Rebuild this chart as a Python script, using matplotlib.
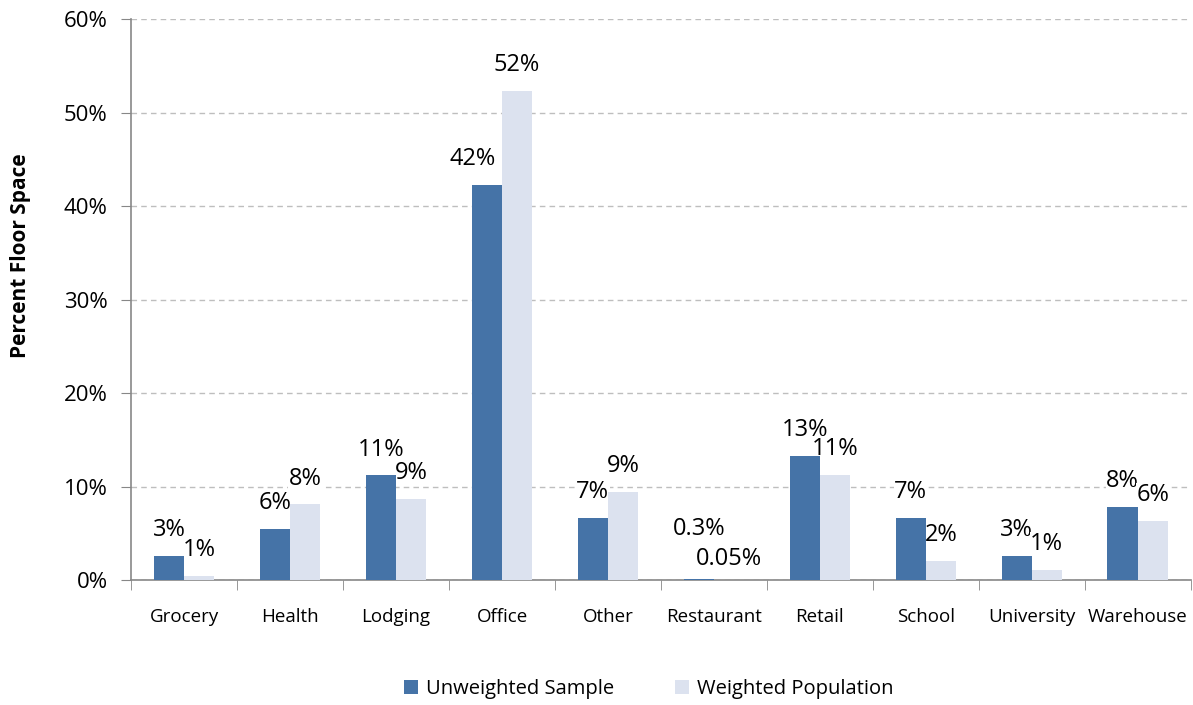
import numpy as np
import matplotlib
matplotlib.use('Agg')
from matplotlib import pyplot as plt
from matplotlib.ticker import FuncFormatter

# data (percent of floor space)
categories = ['Grocery', 'Health', 'Lodging', 'Office', 'Other',
              'Restaurant', 'Retail', 'School', 'University', 'Warehouse']
unweighted = [2.6, 5.5, 11.2, 42.3, 6.7, 0.15, 13.3, 6.7, 2.6, 7.8]
weighted = [0.45, 8.1, 8.7, 52.3, 9.4, 0.05, 11.3, 2.1, 1.1, 6.3]
unweighted_labels = ['3%', '6%', '11%', '42%', '7%', '0.3%', '13%', '7%', '3%', '8%']
weighted_labels = ['1%', '8%', '9%', '52%', '9%', '0.05%', '11%', '2%', '1%', '6%']

dark = '#4573A7'
light = '#DCE2EF'
axis_grey = '#878787'

plt.rcParams['font.family'] = ['Open Sans', 'DejaVu Sans']

fig = plt.figure(figsize=(11.93, 7.05), dpi=100)
ax = fig.add_axes([0.110, 0.177, 0.888, 0.796])

x = np.arange(len(categories))
w = 0.285
b1 = ax.bar(x - w / 2, unweighted, w, color=dark, label='Unweighted Sample', zorder=3)
b2 = ax.bar(x + w / 2, weighted, w, color=light, label='Weighted Population', zorder=3)

# value labels (a few are nudged in the original)
special_off = {'0.3%': (0, 27), '0.05%': (0, 6), '42%': (-10, 10)}
for bars, labels in ((b1, unweighted_labels), (b2, weighted_labels)):
    for rect, lab in zip(bars, labels):
        off = special_off.get(lab, (0, 10))
        ax.annotate(lab, (rect.get_x() + rect.get_width() / 2, rect.get_height()),
                    xytext=off, textcoords='offset points', ha='center', va='bottom',
                    fontsize=17, color='black', zorder=2.5,
                    bbox=dict(facecolor='white', edgecolor='none', pad=0.3))

ax.set_xlim(-0.5, len(categories) - 0.5)
ax.set_ylim(0, 60)
ax.set_yticks(np.arange(0, 61, 10))
ax.yaxis.set_major_formatter(FuncFormatter(lambda v, p: '%d%%' % v))
ax.yaxis.grid(True, linestyle=(0, (4, 3)), color='#BEBEBE', linewidth=1, zorder=0)

# category labels centred, tick marks between categories
ax.set_xticks(x)
ax.set_xticklabels(categories, fontsize=13.5)
ax.set_xticks(np.arange(-0.5, len(categories), 1), minor=True)
ax.tick_params(axis='x', which='major', length=0, pad=20)
ax.tick_params(axis='x', which='minor', length=7, color=axis_grey, direction='out')
ax.tick_params(axis='y', length=7, color=axis_grey, labelsize=16, pad=10)

for s in ['top', 'right']:
    ax.spines[s].set_visible(False)
for s in ['left', 'bottom']:
    ax.spines[s].set_color(axis_grey)
    ax.spines[s].set_linewidth(1.2)

ax.set_ylabel('Percent Floor Space', fontsize=15, fontweight='bold')
ax.yaxis.set_label_coords(-0.095, 0.579)

fig.legend(loc='center', bbox_to_anchor=(0.544, 0.022), ncol=2, frameon=False,
           fontsize=14.5, handlelength=0.7, handleheight=0.7, columnspacing=3, handletextpad=0.4)

fig.savefig('out.png', dpi=100)
